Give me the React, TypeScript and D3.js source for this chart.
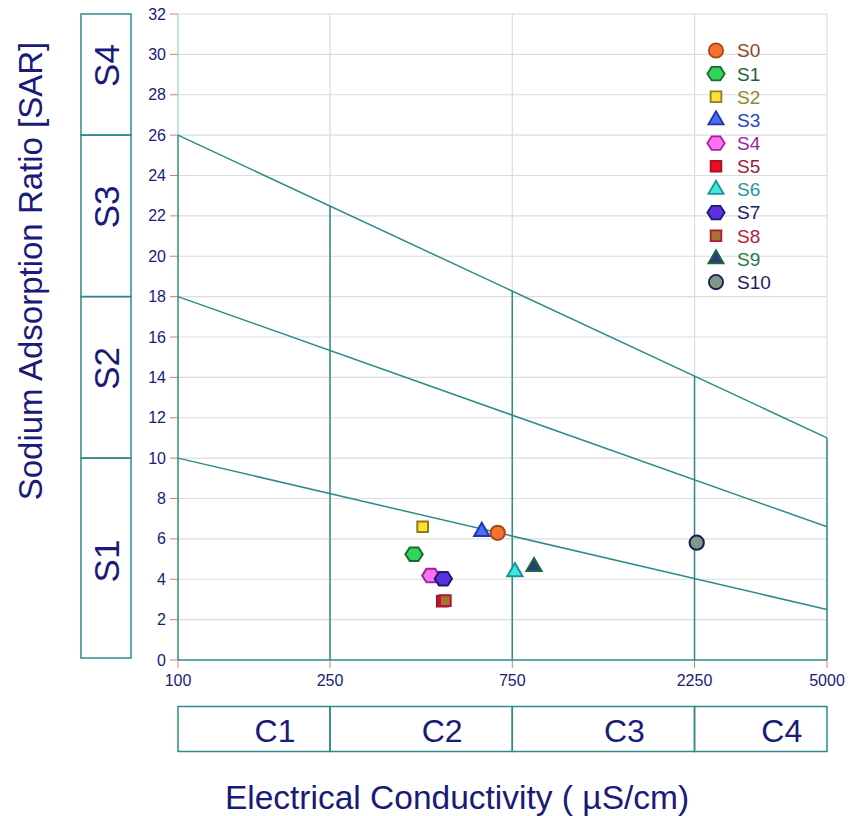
import React, { useEffect, useRef } from 'react';
import * as d3 from 'd3';

// samples
const samples = ['S0', 'S1', 'S2', 'S3', 'S4', 'S5', 'S6', 'S7', 'S8', 'S9', 'S10'];
const ecValues = [687, 415, 437, 624, 459, 492, 762, 495, 501, 855, 2280];
const sarValues = [6.3, 5.24, 6.6, 6.36, 4.18, 2.92, 4.37, 4.03, 2.94, 4.62, 5.81];
const shapes = ['circle', 'hexagon', 'square', 'triangle', 'hexagon', 'square', 'triangle', 'hexagon', 'square', 'triangle', 'circle'];
const fills = ['#f5732f', '#33d45e', '#ffe135', '#4a6ef2', '#ff70f2', '#e8101e', '#3de8e4', '#5b30de', '#a47532', '#263f7c', '#7d9a86'];
const strokes = ['#a8461a', '#1c6a2c', '#8c7c1c', '#2233b0', '#a022a6', '#a8102a', '#1c9494', '#1c1c6c', '#b4163a', '#1c6c3a', '#1c1c52'];
const labelColors = ['#8a4a1e', '#1f5e38', '#8d8a30', '#2a40c0', '#9a2298', '#9a1c3c', '#2a9898', '#1c1c5c', '#b0223c', '#1f7a48', '#1c1c5c'];

// classification boundaries
const ecTicks = [100, 250, 750, 2250, 5000];
const ecClasses = ['C1', 'C2', 'C3', 'C4'];
const sarBounds = [0, 10, 18, 26, 32];
const sarClasses = ['S1', 'S2', 'S3', 'S4'];
const hazardLow = [10, 2.5];
const hazardMid = [18, 6.6];
const hazardHigh = [26, 11];
const sarTicks = d3.range(0, 33, 2);

const teal = '#2e8b87';
const navy = '#1a1a78';
const font = "'Liberation Sans', Arial, sans-serif";

// hexagon with pointy left/right
const hexagon = {
  draw(ctx, size) {
    const r = Math.sqrt((size * 2) / (3 * Math.sqrt(3)));
    for (let i = 0; i < 6; i++) {
      const a = (Math.PI / 3) * i;
      const x = r * Math.cos(a);
      const y = r * Math.sin(a) * 0.9;
      if (i === 0) ctx.moveTo(x, y);
      else ctx.lineTo(x, y);
    }
    ctx.closePath();
  },
};

const symbolFor = (s) => {
  if (s === 'circle') return d3.symbol(d3.symbolCircle, 160)();
  if (s === 'square') return d3.symbol(d3.symbolSquare, 115)();
  if (s === 'triangle') return d3.symbol(d3.symbolTriangle, 100)();
  return d3.symbol(hexagon, 195)();
};

const App = () => {
  const chart = useRef(null);

  useEffect(() => {
    const svg = d3.select(chart.current);
    svg.selectAll('*').remove();

    const left = 178, right = 827, top = 14, bottom = 660;

    const x = d3.scaleLog().domain([100, 5000]).range([left, right]);
    const y = d3.scaleLinear().domain([0, 32]).range([bottom, top]);

    // horizontal grid
    svg
      .append('g')
      .selectAll('line')
      .data(sarTicks.filter((d) => d > 0))
      .enter()
      .append('line')
      .attr('x1', left)
      .attr('x2', right)
      .attr('y1', (d) => y(d))
      .attr('y2', (d) => y(d))
      .attr('stroke', '#dcdcdc')
      .attr('stroke-width', 1.2);

    // vertical grid
    svg
      .append('g')
      .selectAll('line')
      .data(ecTicks.slice(1))
      .enter()
      .append('line')
      .attr('x1', (d) => x(d))
      .attr('x2', (d) => x(d))
      .attr('y1', top)
      .attr('y2', bottom)
      .attr('stroke', '#dcdcdc')
      .attr('stroke-width', 1.2);

    // y axis ticks + labels
    const yAxis = svg.append('g');
    yAxis
      .selectAll('line')
      .data(sarTicks)
      .enter()
      .append('line')
      .attr('x1', left - 8)
      .attr('x2', left)
      .attr('y1', (d) => y(d))
      .attr('y2', (d) => y(d))
      .attr('stroke', '#e07878')
      .attr('stroke-width', 1);
    yAxis
      .selectAll('text')
      .data(sarTicks)
      .enter()
      .append('text')
      .attr('x', left - 12)
      .attr('y', (d) => y(d))
      .attr('dy', '0.35em')
      .attr('text-anchor', 'end')
      .attr('font-family', font)
      .attr('font-size', 16)
      .attr('fill', navy)
      .text((d) => d);

    // x axis ticks + labels
    const xAxis = svg.append('g');
    xAxis
      .selectAll('line')
      .data(ecTicks)
      .enter()
      .append('line')
      .attr('x1', (d) => x(d))
      .attr('x2', (d) => x(d))
      .attr('y1', bottom)
      .attr('y2', bottom + 8)
      .attr('stroke', '#e07878');
    xAxis
      .selectAll('text')
      .data(ecTicks)
      .enter()
      .append('text')
      .attr('x', (d) => x(d))
      .attr('y', bottom + 26)
      .attr('text-anchor', 'middle')
      .attr('font-family', font)
      .attr('font-size', 16)
      .attr('fill', navy)
      .text((d) => d);

    // left axis line
    svg
      .append('line')
      .attr('x1', left)
      .attr('x2', left)
      .attr('y1', top)
      .attr('y2', y(26))
      .attr('stroke', '#8fd3d3')
      .attr('stroke-width', 1.2);
    svg
      .append('line')
      .attr('x1', left)
      .attr('x2', left)
      .attr('y1', y(26))
      .attr('y2', bottom)
      .attr('stroke', teal)
      .attr('stroke-width', 1.5);
    svg
      .append('line')
      .attr('x1', left)
      .attr('x2', right)
      .attr('y1', bottom)
      .attr('y2', bottom)
      .attr('stroke', teal)
      .attr('stroke-width', 1.5);

    // hazard lines
    const line = d3
      .line()
      .x((d) => x(d[0]))
      .y((d) => y(d[1]));
    [hazardLow, hazardMid, hazardHigh].forEach((h) => {
      svg
        .append('path')
        .attr('d', line([[100, h[0]], [5000, h[1]]]))
        .attr('fill', 'none')
        .attr('stroke', teal)
        .attr('stroke-width', 1.5);
    });

    // vertical class lines up to upper hazard line
    const highAt = (ec) => {
      const t = (Math.log10(ec) - 2) / (Math.log10(5000) - 2);
      return hazardHigh[0] + t * (hazardHigh[1] - hazardHigh[0]);
    };
    svg
      .append('g')
      .selectAll('line')
      .data(ecTicks.slice(1))
      .enter()
      .append('line')
      .attr('x1', (d) => x(d))
      .attr('x2', (d) => x(d))
      .attr('y1', bottom)
      .attr('y2', (d) => y(highAt(d)))
      .attr('stroke', teal)
      .attr('stroke-width', 1.5);

    // points
    svg
      .append('g')
      .selectAll('path')
      .data(samples.map((s, i) => i))
      .enter()
      .append('path')
      .attr('d', (i) => symbolFor(shapes[i]))
      .attr('transform', (i) => `translate(${x(ecValues[i])},${y(sarValues[i])})`)
      .attr('fill', (i) => fills[i])
      .attr('stroke', (i) => strokes[i])
      .attr('stroke-width', 2);

    // legend
    const legend = svg
      .append('g')
      .selectAll('g')
      .data(samples.map((s, i) => i))
      .enter()
      .append('g')
      .attr('transform', (i) => `translate(716,${50.5 + i * 23.16})`);
    legend
      .append('path')
      .attr('d', (i) => symbolFor(shapes[i]))
      .attr('fill', (i) => fills[i])
      .attr('stroke', (i) => strokes[i])
      .attr('stroke-width', 1.8);
    legend
      .append('text')
      .attr('x', 21)
      .attr('dy', '0.36em')
      .attr('font-family', font)
      .attr('font-size', 19)
      .attr('fill', (i) => labelColors[i])
      .text((i) => samples[i]);

    // SAR class boxes (left)
    const sBox = svg.append('g');
    sBox
      .selectAll('rect')
      .data(sarClasses)
      .enter()
      .append('rect')
      .attr('x', 81)
      .attr('width', 50)
      .attr('y', (d, i) => y(sarBounds[i + 1]))
      .attr('height', (d, i) => y(sarBounds[i]) - y(sarBounds[i + 1]) - (i === 0 ? 2 : 0))
      .attr('fill', 'none')
      .attr('stroke', teal)
      .attr('stroke-width', 1.5);
    sBox
      .selectAll('text')
      .data(sarClasses)
      .enter()
      .append('text')
      .attr('transform', (d, i) => {
        const cy = (y(sarBounds[i]) + y(sarBounds[i + 1])) / 2 + (i === 0 ? 2 : -9);
        return `translate(106,${cy}) rotate(-90)`;
      })
      .attr('dy', '0.36em')
      .attr('text-anchor', 'middle')
      .attr('font-family', font)
      .attr('font-size', 35)
      .attr('fill', navy)
      .text((d) => d);

    // EC class boxes (bottom)
    const cBox = svg.append('g');
    cBox
      .selectAll('rect')
      .data(ecClasses)
      .enter()
      .append('rect')
      .attr('x', (d, i) => x(ecTicks[i]))
      .attr('width', (d, i) => x(ecTicks[i + 1]) - x(ecTicks[i]))
      .attr('y', 706.5)
      .attr('height', 45)
      .attr('fill', 'none')
      .attr('stroke', teal)
      .attr('stroke-width', 1.5);
    cBox
      .selectAll('text')
      .data(ecClasses)
      .enter()
      .append('text')
      .attr('x', (d, i) => (x(ecTicks[i]) + x(ecTicks[i + 1])) / 2 + 21)
      .attr('y', 730.5)
      .attr('dy', '0.36em')
      .attr('text-anchor', 'middle')
      .attr('font-family', font)
      .attr('font-size', 32)
      .attr('fill', navy)
      .text((d) => d);

    // axis titles
    svg
      .append('text')
      .attr('transform', 'translate(30,271) rotate(-90)')
      .attr('dy', '0.35em')
      .attr('text-anchor', 'middle')
      .attr('font-family', font)
      .attr('font-size', 33)
      .attr('fill', navy)
      .text('Sodium Adsorption Ratio [SAR]');

    svg
      .append('text')
      .attr('x', 457)
      .attr('y', 797)
      .attr('dy', '0.35em')
      .attr('text-anchor', 'middle')
      .attr('font-family', font)
      .attr('font-size', 33.5)
      .attr('fill', navy)
      .text('Electrical Conductivity ( µS/cm)');
  }, []);

  return (
    <svg
      ref={chart}
      width={862}
      height={816}
      style={{ position: 'absolute', left: 0, top: 0, background: '#fff' }}
    />
  );
};

export default App;
